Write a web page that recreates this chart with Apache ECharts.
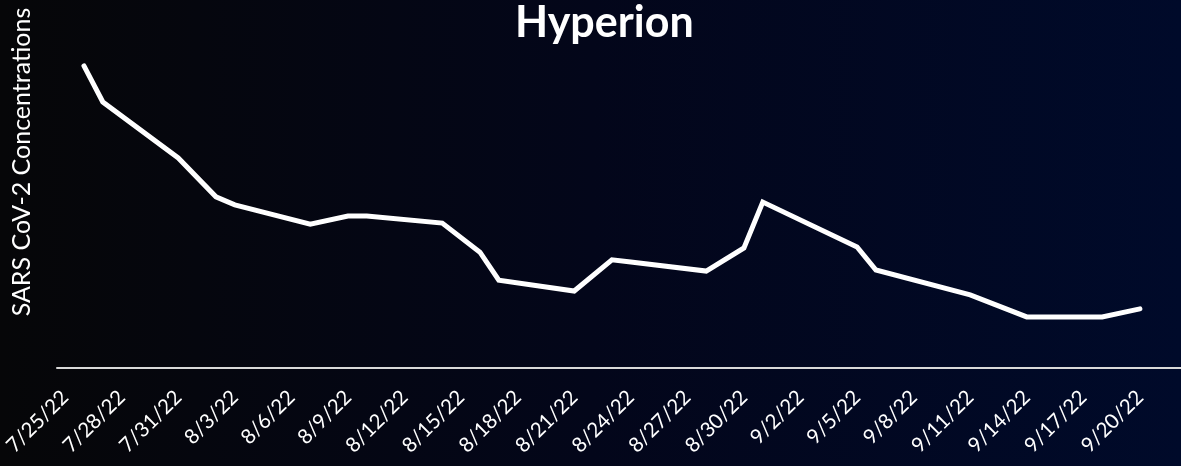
<!DOCTYPE html>
<html>
<head>
<meta charset="utf-8">
<script src="https://cdn.jsdelivr.net/npm/echarts@6/dist/echarts.min.js"></script>
<style>
  html, body { margin: 0; padding: 0; }
  #main { width: 1181px; height: 466px; }
</style>
</head>
<body>
<div id="main"></div>
<script>
// sample dates and concentrations (relative units, axis has no scale)
var sampleDates = ['7/26/22', '7/27/22', '7/31/22', '8/2/22', '8/3/22', '8/7/22', '8/9/22', '8/10/22',
    '8/14/22', '8/16/22', '8/17/22', '8/21/22', '8/23/22', '8/24/22', '8/28/22', '8/30/22', '8/31/22',
    '9/5/22', '9/6/22', '9/11/22', '9/14/22', '9/18/22', '9/20/22'];
var concentrations = [86.3, 76.0, 60.0, 48.9, 46.6, 41.1, 43.4, 43.4,
    41.4, 33.1, 25.1, 22.0, 30.9, 30.3, 27.7, 34.3, 47.4,
    34.6, 28.0, 20.9, 14.6, 14.6, 16.9];
// x axis labels, one every 3 days
var tickLabels = ['7/25/22', '7/28/22', '7/31/22', '8/3/22', '8/6/22', '8/9/22', '8/12/22', '8/15/22',
    '8/18/22', '8/21/22', '8/24/22', '8/27/22', '8/30/22', '9/2/22', '9/5/22', '9/8/22', '9/11/22',
    '9/14/22', '9/17/22', '9/20/22'];

// days since 7/25/22
function dayIndex(str) {
    var p = str.split('/');
    var d = new Date(2000 + Number(p[2]), Number(p[0]) - 1, Number(p[1]));
    var start = new Date(2022, 6, 25);
    return Math.round((d - start) / 86400000);
}

var tickPos = tickLabels.map(dayIndex);
var labelByDay = {};
tickLabels.forEach(function (t, i) { labelByDay[tickPos[i]] = t; });

var lineData = [];
for (var i = 0; i < sampleDates.length; i++) {
    lineData.push([dayIndex(sampleDates[i]), concentrations[i]]);
}

var chart = echarts.init(document.getElementById('main'));

var option = {
    animation: false,
    backgroundColor: new echarts.graphic.LinearGradient(0, 0, 1, 0, [
        { offset: 0, color: '#060608' },
        { offset: 0.5, color: '#03061a' },
        { offset: 1, color: '#000a2a' }
    ]),
    title: {
        text: 'Hyperion',
        left: 510,
        top: -3,
        textStyle: {
            color: '#ffffff',
            fontFamily: 'Lato',
            fontWeight: 'bold',
            fontSize: 43
        }
    },
    graphic: [{
        type: 'text',
        x: 22,
        y: 162,
        rotation: Math.PI / 2,
        style: {
            text: 'SARS CoV-2 Concentrations',
            fill: '#ffffff',
            font: '25px Lato',
            align: 'center',
            verticalAlign: 'middle'
        }
    }],
    grid: {
        left: 57,
        right: 0,
        top: 18,
        bottom: 98,
        outerBoundsMode: 'none'
    },
    xAxis: {
        type: 'value',
        min: -0.43,
        max: 59.18,
        splitLine: { show: false },
        axisTick: { show: false },
        axisLine: {
            show: true,
            onZero: false,
            lineStyle: { color: '#d9d9d9', width: 2 }
        },
        axisLabel: {
            customValues: tickPos,
            rotate: 45,
            margin: 26,
            color: '#ffffff',
            fontFamily: 'Lato',
            fontSize: 20.5,
            formatter: function (v) {
                return labelByDay[v] || '';
            }
        }
    },
    yAxis: {
        type: 'value',
        min: 0,
        max: 100,
        show: false
    },
    series: [{
        type: 'line',
        data: lineData,
        showSymbol: false,
        lineStyle: {
            color: '#ffffff',
            width: 5,
            cap: 'round',
            join: 'miter'
        }
    }]
};

chart.setOption(option);
</script>
</body>
</html>
